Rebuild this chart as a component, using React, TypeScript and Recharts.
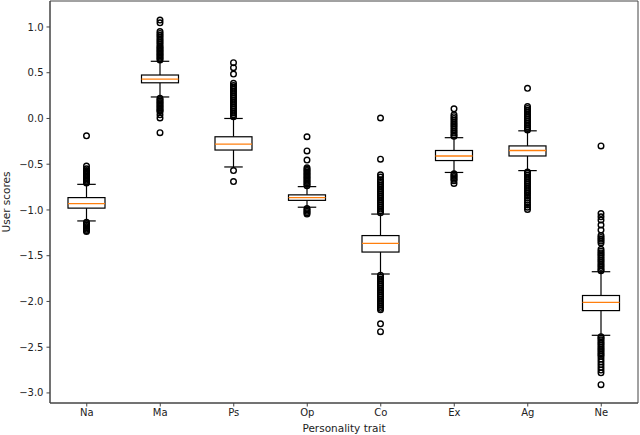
import { ComposedChart, Bar, XAxis, YAxis, ReferenceArea } from 'recharts';

const traits = ['Na', 'Ma', 'Ps', 'Op', 'Co', 'Ex', 'Ag', 'Ne'];
const lowerWhisker = [-1.12, 0.235, -0.53, -0.97, -1.70, -0.59, -0.57, -2.37];
const q1 = [-0.98, 0.39, -0.345, -0.895, -1.46, -0.46, -0.41, -2.10];
const medians = [-0.93, 0.43, -0.28, -0.865, -1.365, -0.41, -0.35, -2.01];
const q3 = [-0.865, 0.475, -0.20, -0.835, -1.28, -0.35, -0.30, -1.935];
const upperWhisker = [-0.72, 0.625, 0.0, -0.745, -1.045, -0.21, -0.135, -1.675];

const outliers: number[][] = [
  [-0.19, -0.52, -0.55, -0.57, -0.585, -0.60, -0.615, -0.63, -0.645, -0.66, -0.675, -0.69, -0.705,
    -1.135, -1.15, -1.165, -1.18, -1.195, -1.21, -1.225, -1.235],
  [1.075, 1.045, 0.95, 0.93, 0.91, 0.89, 0.87, 0.85, 0.83, 0.81, 0.79, 0.775, 0.76, 0.745, 0.73, 0.715,
    0.70, 0.685, 0.67, 0.655, 0.64, 0.22, 0.205, 0.19, 0.175, 0.16, 0.145, 0.13, 0.115, 0.10, 0.085,
    0.075, 0.04, 0.005, -0.155],
  [0.61, 0.555, 0.485, 0.385, 0.36, 0.34, 0.32, 0.30, 0.28, 0.26, 0.24, 0.22, 0.20, 0.18, 0.16, 0.14,
    0.12, 0.10, 0.08, 0.06, 0.04, 0.02, -0.57, -0.69],
  [-0.20, -0.355, -0.455, -0.54, -0.555, -0.57, -0.585, -0.60, -0.615, -0.63, -0.645, -0.66, -0.675,
    -0.69, -0.705, -0.72, -0.735, -0.985, -1.0, -1.015, -1.03, -1.045],
  [0.005, -0.445, -0.615, -0.64, -0.67, -0.69, -0.71, -0.73, -0.75, -0.77, -0.79, -0.81, -0.83, -0.85,
    -0.87, -0.89, -0.91, -0.93, -0.95, -0.97, -0.99, -1.01, -1.03, -1.715, -1.735, -1.755, -1.775,
    -1.795, -1.815, -1.835, -1.855, -1.875, -1.895, -1.915, -1.935, -1.955, -1.975, -1.995, -2.015,
    -2.035, -2.055, -2.075, -2.09, -2.245, -2.33],
  [0.105, 0.04, 0.02, 0.0, -0.02, -0.04, -0.06, -0.08, -0.10, -0.12, -0.14, -0.16, -0.18, -0.195,
    -0.605, -0.62, -0.635, -0.65, -0.665, -0.68, -0.71],
  [0.33, 0.13, 0.11, 0.09, 0.07, 0.05, 0.03, 0.01, -0.01, -0.03, -0.05, -0.07, -0.09, -0.11, -0.125,
    -0.585, -0.60, -0.62, -0.64, -0.66, -0.68, -0.70, -0.72, -0.74, -0.76, -0.78, -0.80, -0.82, -0.845,
    -0.87, -0.895, -0.92, -0.945, -0.97, -0.995],
  [-0.30, -1.04, -1.075, -1.11, -1.165, -1.22, -1.28, -1.30, -1.32, -1.34, -1.36, -1.43, -1.45, -1.47,
    -1.49, -1.51, -1.53, -1.55, -1.57, -1.59, -1.61, -1.63, -1.65, -1.665, -2.385, -2.40, -2.42, -2.44,
    -2.46, -2.48, -2.50, -2.52, -2.54, -2.56, -2.58, -2.60, -2.63, -2.66, -2.69, -2.72, -2.75, -2.78,
    -2.91],
];

const yTicks = [-3.0, -2.5, -2.0, -1.5, -1.0, -0.5, 0.0, 0.5, 1.0];
const yMin = -3.11;
const yMax = 1.284;

const rows = traits.map((trait, i) => ({
  trait,
  lo: lowerWhisker[i],
  q1: q1[i],
  median: medians[i],
  q3: q3[i],
  hi: upperWhisker[i],
  outliers: outliers[i],
}));

const font = '"DejaVu Sans", sans-serif';

// the bar spans lo..hi, everything else is placed relative to it
function BoxShape(props: any) {
  const { x, y, width, height, payload } = props;
  const { lo, hi } = payload;
  const py = (v: number) => y + ((hi - v) / (hi - lo)) * height;
  const cx = x + width / 2;
  const capHalf = width / 4;
  const top = py(payload.q3);
  const bottom = py(payload.q1);
  return (
    <g>
      {payload.outliers.map((v: number, k: number) => (
        <circle key={k} cx={cx} cy={py(v)} r={2.8} fill="none" stroke="#000" strokeWidth={1.4} />
      ))}
      <line x1={cx} x2={cx} y1={py(hi)} y2={top} stroke="#000" strokeWidth={1.2} />
      <line x1={cx} x2={cx} y1={bottom} y2={py(lo)} stroke="#000" strokeWidth={1.2} />
      <line x1={cx - capHalf} x2={cx + capHalf} y1={py(hi)} y2={py(hi)} stroke="#000" strokeWidth={1.2} />
      <line x1={cx - capHalf} x2={cx + capHalf} y1={py(lo)} y2={py(lo)} stroke="#000" strokeWidth={1.2} />
      <rect x={x} y={top} width={width} height={bottom - top} fill="#fff" stroke="#000" strokeWidth={1.2} />
      <line x1={x} x2={x + width} y1={py(payload.median)} y2={py(payload.median)} stroke="#ff7f0e" strokeWidth={1.3} />
    </g>
  );
}

const fmt = (v: number) => (v < 0 ? '\u2212' : '') + Math.abs(v).toFixed(1);

export default function App() {
  return (
    <div style={{ position: 'absolute', left: 0, top: 0 }}>
      <ComposedChart width={640} height={435} data={rows} margin={{ top: 1, right: 2, bottom: 0, left: 0 }}>
        <ReferenceArea y1={yMin} y2={yMax} fill="none" stroke="#444" strokeWidth={1} ifOverflow="visible" />
        <XAxis
          dataKey="trait"
          height={32}
          tickSize={3.5}
          tickMargin={2}
          axisLine={{ stroke: '#444' }}
          tickLine={{ stroke: '#444' }}
          tick={{ fill: '#222', fontSize: 10, fontFamily: font }}
          label={{ value: 'Personality trait', position: 'insideBottom', offset: 3, fill: '#222', fontSize: 10.5, fontFamily: font }}
        />
        <YAxis
          type="number"
          width={50}
          domain={[yMin, yMax]}
          allowDataOverflow
          ticks={yTicks}
          tickFormatter={fmt}
          tickSize={3.5}
          tickMargin={3}
          axisLine={{ stroke: '#444' }}
          tickLine={{ stroke: '#444' }}
          tick={{ fill: '#222', fontSize: 10, fontFamily: font }}
          label={{ value: 'User scores', angle: -90, position: 'insideLeft', offset: 6, fill: '#222', fontSize: 10.5, fontFamily: font, style: { textAnchor: 'middle' } }}
        />
        <Bar
          dataKey={(d: any) => [d.lo, d.hi]}
          barSize={37}
          shape={BoxShape}
          isAnimationActive={false}
        />
      </ComposedChart>
    </div>
  );
}
